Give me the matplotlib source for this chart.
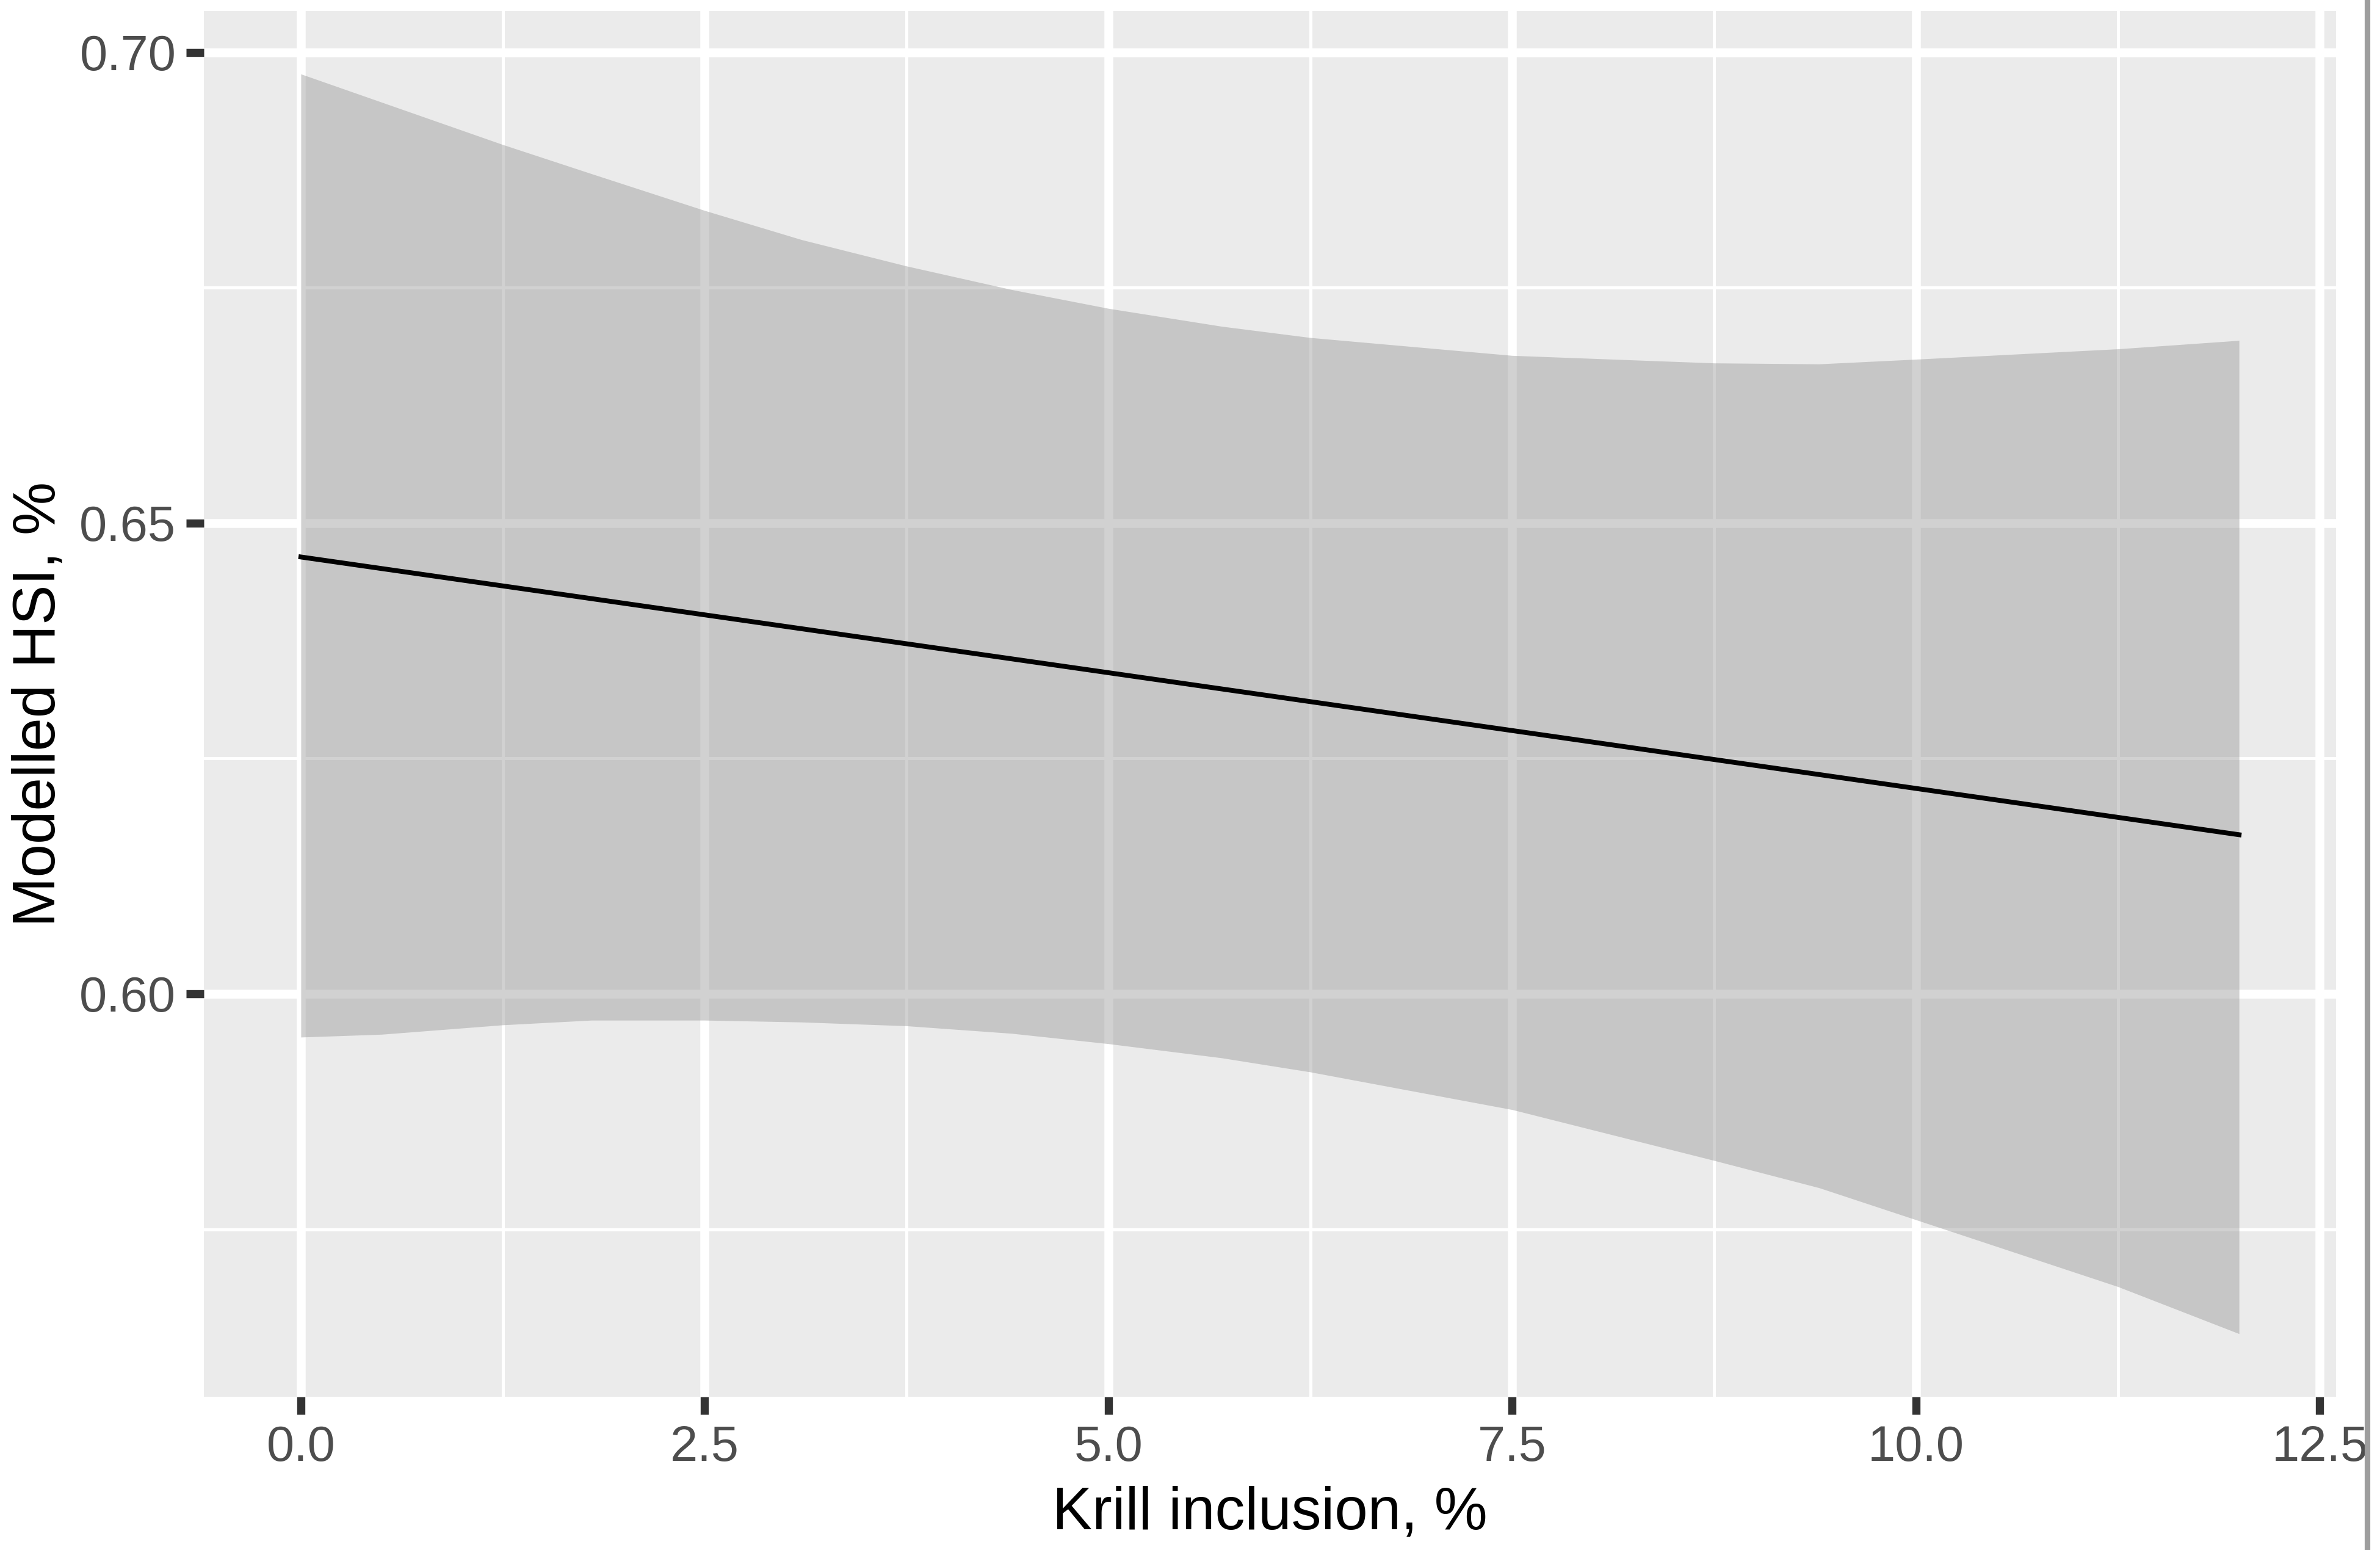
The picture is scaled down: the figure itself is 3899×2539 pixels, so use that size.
import matplotlib
matplotlib.use("Agg")
import matplotlib.pyplot as plt
from matplotlib.lines import Line2D
from matplotlib.ticker import MultipleLocator, FormatStrFormatter

plt.rcParams["font.family"] = ["Liberation Sans", "DejaVu Sans"]

# krill inclusion (%) and the confidence ribbon
krill = [0, 0.5, 1.25, 1.8, 2.5, 3.1, 3.75, 4.4, 5.0, 5.7, 6.25, 7.5, 8.75, 9.4, 10.0, 11.25, 12.0]
upper = [0.6977, 0.6947, 0.6902, 0.6871, 0.6832, 0.6801, 0.6773, 0.6748, 0.6728, 0.6709,
         0.6697, 0.6678, 0.6670, 0.6669, 0.6674, 0.6685, 0.6694]
lower = [0.5954, 0.5957, 0.5967, 0.5972, 0.5972, 0.5970, 0.5966, 0.5958, 0.5947, 0.5932,
         0.5917, 0.5877, 0.5823, 0.5794, 0.5760, 0.5689, 0.5639]

# fitted line
fit_x = [0, 12]
fit_y = [0.6464, 0.6169]

x_ticks = [0.0, 2.5, 5.0, 7.5, 10.0, 12.5]
y_ticks = [0.60, 0.65, 0.70]

fig = plt.figure(figsize=(3899 / 300, 2539 / 300), dpi=300)
ax = fig.add_axes([0.0857, 0.0989, 0.8958, 0.8940])
ax.set_facecolor("#EBEBEB")

ax.fill_between(krill, lower, upper, color="#999999", alpha=0.45, linewidth=0, zorder=2)
ax.plot(fit_x, fit_y, color="black", linewidth=1.9, zorder=3)

# ggplot style 5% expansion
xr = max(krill) - min(krill)
ax.set_xlim(min(krill) - 0.05 * xr, max(krill) + 0.05 * xr)
ymin, ymax = min(lower), max(upper)
yr = ymax - ymin
ax.set_ylim(ymin - 0.05 * yr, ymax + 0.05 * yr)

ax.set_xticks(x_ticks)
ax.set_yticks(y_ticks)
ax.xaxis.set_minor_locator(MultipleLocator(1.25))
ax.yaxis.set_minor_locator(MultipleLocator(0.025))
ax.xaxis.set_major_formatter(FormatStrFormatter("%.1f"))
ax.yaxis.set_major_formatter(FormatStrFormatter("%.2f"))

ax.grid(which="major", color="white", linewidth=3.5, zorder=1)
ax.grid(which="minor", color="white", linewidth=1.2, zorder=1)
ax.set_axisbelow(True)

for s in ax.spines.values():
    s.set_visible(False)

ax.tick_params(which="major", length=7, width=3.2, color="#333333",
               labelsize=19.5, labelcolor="#4D4D4D", pad=4)
ax.tick_params(which="minor", length=0)

ax.set_xlabel("Krill inclusion, %", fontsize=23.5, color="black")
ax.xaxis.label.set_verticalalignment("baseline")
ax.xaxis.set_label_coords(0.5, -0.0956)

ax.set_ylabel("Modelled HSI, %", fontsize=23.5, color="black")
ax.yaxis.label.set_verticalalignment("baseline")
ax.yaxis.set_label_coords(-0.0701, 0.5)

# grey edge on the right of the screenshot
fig.add_artist(Line2D([0.9946, 0.9946], [0, 1], transform=fig.transFigure,
                      color="#9E9E9E", linewidth=2.2))

fig.savefig("out.png", dpi=300, facecolor="white")
